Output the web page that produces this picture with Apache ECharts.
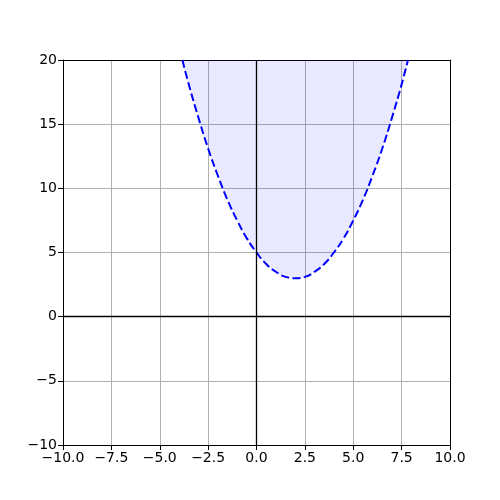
<!DOCTYPE html>
<html><head><meta charset="utf-8">
<script src="https://cdn.jsdelivr.net/npm/echarts@6/dist/echarts.min.js"></script>
<style>html,body{margin:0;padding:0;background:#fff}#c{width:500px;height:500px}</style>
</head><body><div id="c"></div>
<script>
const xValues = [-3.83, -3.5, -3, -2.5, -2, -1.5, -1, -0.5, 0, 0.5, 1, 1.5, 2, 2.5, 3, 3.5, 4, 4.5, 5, 5.5, 6, 6.5, 7, 7.5, 7.83];
const yValues = [20.0, 18.1, 15.5, 13.1, 11.0, 9.1, 7.5, 6.1, 5.0, 4.1, 3.5, 3.1, 3.0, 3.1, 3.5, 4.1, 5.0, 6.1, 7.5, 9.1, 11.0, 13.1, 15.5, 18.1, 20.0];
const xTicks = [-10, -7.5, -5, -2.5, 0, 2.5, 5, 7.5, 10];
const yTicks = [-10, -5, 0, 5, 10, 15, 20];

const fmtX = v => (v < 0 ? '\u2212' : '') + Math.abs(v).toFixed(1);
const fmtY = v => (v < 0 ? '\u2212' : '') + Math.abs(v).toFixed(0);
const font = 'DejaVu Sans';
const xMin = xTicks[0], xMax = xTicks[xTicks.length-1];
const yMin = yTicks[0], yMax = yTicks[yTicks.length-1];
const frameAxis = {axisLine: {show: true, onZero: false, lineStyle: {color: '#000', width: 1}}, axisTick: {show: false}, axisLabel: {show: false}, splitLine: {show: false}};

const chart = echarts.init(document.getElementById('c'));
chart.setOption({
  animation: false,
  grid: {left: 63, right: 50, top: 60, bottom: 55},
  xAxis: [{
    type: 'value', min: xMin, max: xMax, interval: 2.5, position: 'bottom',
    axisLine: {show: true, onZero: false, lineStyle: {color: '#000', width: 1}},
    axisTick: {show: true, length: 5, lineStyle: {color: '#000'}},
    axisLabel: {color: '#000', fontSize: 14, fontFamily: font, margin: 6, formatter: fmtX},
    splitLine: {show: true, lineStyle: {color: '#b0b0b0', width: 1}}
  }, Object.assign({type: 'value', min: xMin, max: xMax, position: 'top'}, frameAxis)],
  yAxis: [{
    type: 'value', min: yMin, max: yMax, interval: 5, position: 'left',
    axisLine: {show: true, onZero: false, lineStyle: {color: '#000', width: 1}},
    axisTick: {show: true, length: 5, lineStyle: {color: '#000'}},
    axisLabel: {color: '#000', fontSize: 14, fontFamily: font, margin: 6, formatter: fmtY},
    splitLine: {show: true, lineStyle: {color: '#b0b0b0', width: 1}}
  }, Object.assign({type: 'value', min: yMin, max: yMax, position: 'right'}, frameAxis)],
  series: [{
    type: 'line',
    data: xValues.map((x, i) => [x, yValues[i]]),
    smooth: true,
    showSymbol: false,
    lineStyle: {color: '#0000ff', width: 2, type: [8, 3.5]},
    areaStyle: {color: 'rgba(0,0,255,0.12)', origin: 'end'},
    markLine: {
      silent: true, symbol: 'none', label: {show: false},
      lineStyle: {color: '#000', width: 1.3, type: 'solid'},
      data: [{xAxis: 0}, {yAxis: 0}]
    }
  }]
});
</script></body></html>
